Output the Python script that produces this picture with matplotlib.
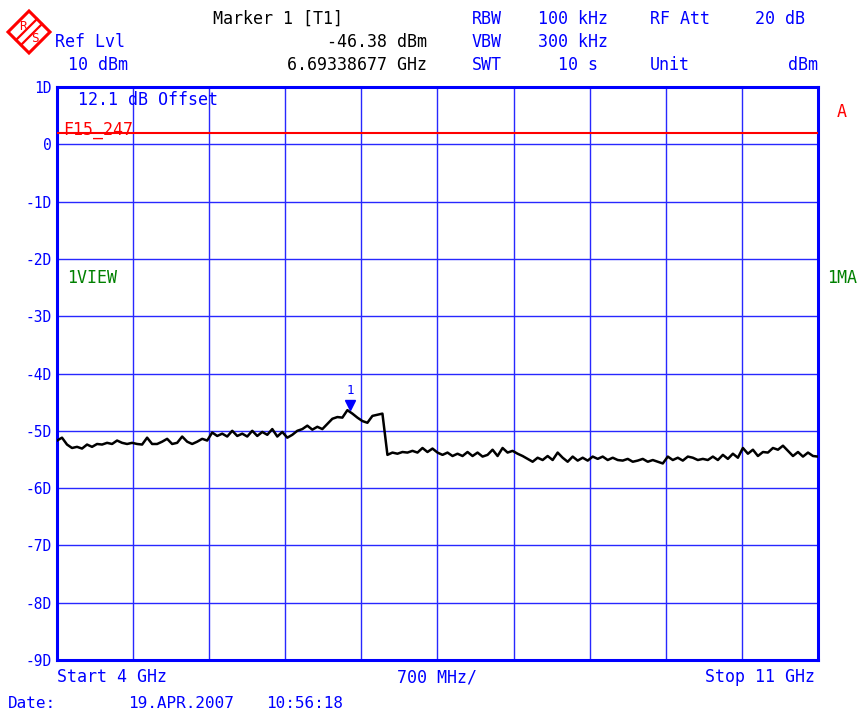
import numpy as np
import matplotlib
matplotlib.use("Agg")
import matplotlib.pyplot as plt
import matplotlib.transforms as mtransforms
from matplotlib.patches import Polygon

# trace, 4 GHz .. 11 GHz, evenly swept
trace = [
    -51.7, -51.2, -52.4, -53.0, -52.8, -53.1, -52.4, -52.8, -52.3, -52.4,
    -52.1, -52.3, -51.7, -52.1, -52.3, -52.1, -52.3, -52.4, -51.2, -52.3,
    -52.3, -51.9, -51.4, -52.3, -52.1, -51.0, -51.9, -52.3, -51.9, -51.4,
    -51.7, -50.3, -50.9, -50.5, -51.0, -50.0, -50.9, -50.5, -51.0, -50.0,
    -50.9, -50.2, -50.7, -49.7, -51.0, -50.2, -51.2, -50.7, -50.0, -49.7,
    -49.1, -49.8, -49.3, -49.7, -48.8, -47.9, -47.6, -47.7, -46.4, -47.0,
    -47.7, -48.3, -48.6, -47.4, -47.2, -47.0, -54.2, -53.8, -54.0, -53.7,
    -53.8, -53.5, -53.8, -53.0, -53.7, -53.1, -53.8, -54.2, -53.8, -54.4,
    -54.0, -54.4, -53.7, -54.4, -53.8, -54.5, -54.2, -53.3, -54.4, -53.0,
    -53.8, -53.5, -54.0, -54.4, -54.9, -55.4, -54.7, -55.1, -54.4, -55.1,
    -53.8, -54.7, -55.4, -54.5, -55.2, -54.7, -55.2, -54.5, -54.9, -54.5,
    -55.1, -54.7, -55.1, -55.2, -54.9, -55.4, -55.2, -54.9, -55.4, -55.1,
    -55.4, -55.7, -54.5, -55.1, -54.7, -55.2, -54.5, -54.7, -55.1, -54.9,
    -55.1, -54.5, -55.1, -54.2, -54.9, -54.0, -54.7, -53.0, -54.0, -53.3,
    -54.4, -53.7, -53.8, -53.0, -53.3, -52.6, -53.5, -54.4, -53.7, -54.5,
    -53.8, -54.4, -54.5,
]
f_start, f_stop = 4.0, 11.0          # GHz
ref_level = 10                       # dBm
limit_level = 2.0                    # F15_247 limit line
marker_freq = 6.69338677
marker_level = -46.38
y_ticks = [10, 0, -10, -20, -30, -40, -50, -60, -70, -80, -90]
y_tick_labels = ["1D", "0", "-1D", "-2D", "-3D", "-4D", "-5D", "-6D", "-7D", "-8D", "-9D"]

BLUE = "#0000ff"
RED = "#ff0000"
GREEN = "#008000"
MONO = "DejaVu Sans Mono"

W, H = 858, 715
fig = plt.figure(figsize=(W / 100, H / 100), dpi=100)
fig.patch.set_facecolor("white")

ax = fig.add_axes([57 / W, 1 - 660 / H, (818 - 57) / W, (660 - 87) / H])
freq = np.linspace(f_start, f_stop, len(trace))
ax.plot(freq, trace, color="black", lw=1.8, zorder=4)
ax.axhline(limit_level, color=RED, lw=1.5, zorder=3)

ax.set_xlim(f_start, f_stop)
ax.set_ylim(-90, ref_level)
ax.set_xticks(np.linspace(f_start, f_stop, 11))
ax.set_yticks(y_ticks)
ax.set_yticklabels(y_tick_labels, family=MONO, fontsize=10.5, color=BLUE)
ax.set_xticklabels([])
ax.tick_params(length=0, pad=4)
ax.grid(True, color="#2828ff", lw=1)
for sp in ax.spines.values():
    sp.set_color(BLUE)
    sp.set_linewidth(2.2)

# marker 1
tr_tri = mtransforms.offset_copy(ax.transData, fig=fig, y=4, units="points")
ax.plot(marker_freq, marker_level, marker="v", color=BLUE, ms=7, transform=tr_tri, zorder=5)
tr_num = mtransforms.offset_copy(ax.transData, fig=fig, y=14, units="points")
ax.text(marker_freq, marker_level, "1", color=BLUE, family=MONO, fontsize=9,
        ha="center", va="center", transform=tr_num)

# overlay in pixel coordinates for the screen annotations
ov = fig.add_axes([0, 0, 1, 1], zorder=10)
ov.set_xlim(0, W)
ov.set_ylim(H, 0)
ov.axis("off")
ov.patch.set_alpha(0)


def txt(x, y, s, color=BLUE, ha="left", size=12):
    ov.text(x, y, s, color=color, ha=ha, va="center", family=MONO, fontsize=size)


txt(213, 19, "Marker 1 [T1]", "black")
txt(55, 42, "Ref Lvl")
txt(68, 65, "10 dBm")
txt(427, 42, "-46.38 dBm", "black", ha="right")
txt(427, 65, "6.69338677 GHz", "black", ha="right")
txt(472, 19, "RBW")
txt(538, 19, "100 kHz")
txt(650, 19, "RF Att")
txt(755, 19, "20 dB")
txt(472, 42, "VBW")
txt(538, 42, "300 kHz")
txt(472, 65, "SWT")
txt(558, 65, "10 s")
txt(650, 65, "Unit")
txt(818, 65, "dBm", ha="right")

txt(78, 100, "12.1 dB Offset")
txt(63, 130, "F15_247", RED)
txt(842, 112, "A", RED, ha="center")
txt(67, 278, "1VIEW", GREEN)
txt(827, 278, "1MA", GREEN)

txt(57, 677, "Start 4 GHz")
txt(397, 677, "700 MHz/")
txt(815, 677, "Stop 11 GHz", ha="right")
txt(8, 704, "Date:", size=11.5)
txt(128, 704, "19.APR.2007", size=11.5)
txt(266, 704, "10:56:18", size=11.5)

# R&S logo
cx, cy, r = 29, 32, 21
ov.add_patch(Polygon([(cx - r, cy), (cx, cy - r), (cx + r, cy), (cx, cy + r)],
                     closed=True, fill=False, edgecolor=RED, lw=2.2))
for d in (-2.5, 2.5):
    ov.plot([cx - r / 2 + d, cx + r / 2 + d], [cy + r / 2 + d, cy - r / 2 + d], color=RED, lw=1.6)
ov.text(cx - 6, cy - 6, "R", color=RED, fontsize=9, ha="center", va="center", family=MONO)
ov.text(cx + 6, cy + 7, "S", color=RED, fontsize=9, ha="center", va="center", family=MONO)

fig.savefig("out.png", dpi=100)
